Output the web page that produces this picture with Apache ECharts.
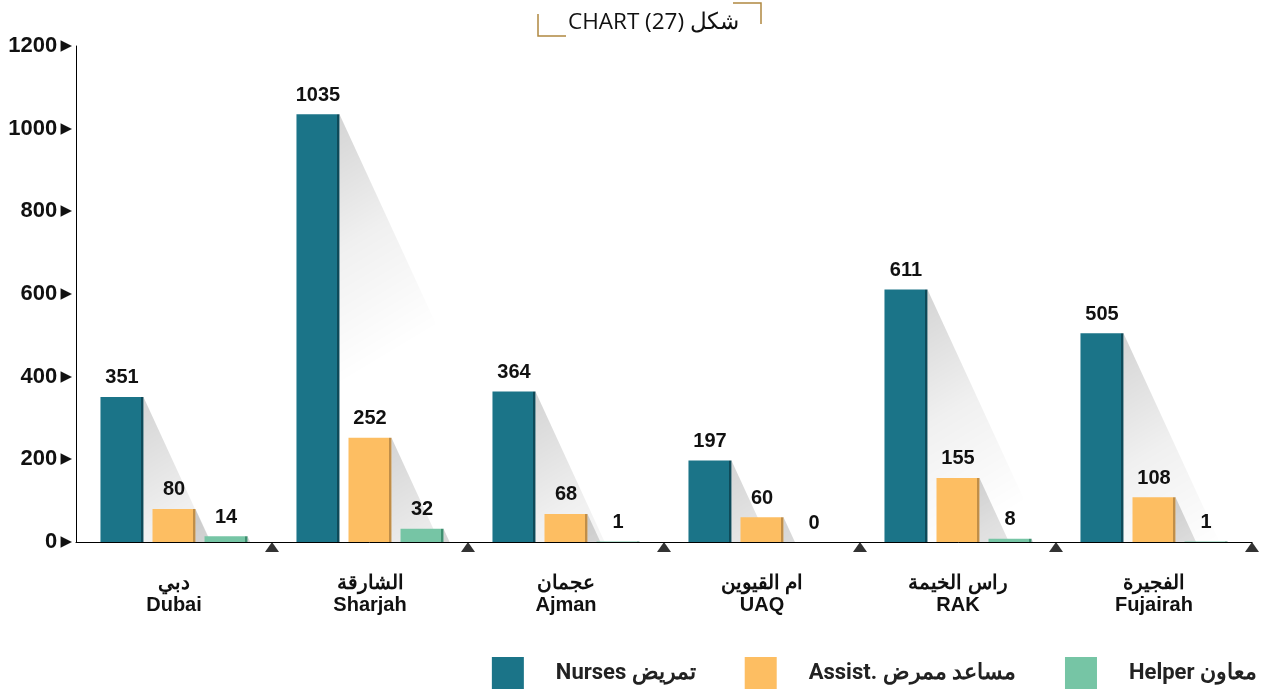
<!DOCTYPE html>
<html>
<head>
<meta charset="utf-8">
<script src="https://cdn.jsdelivr.net/npm/echarts@6/dist/echarts.min.js"></script>
<style>
  html, body { margin: 0; padding: 0; background: #fff; }
  #chart { width: 1272px; height: 693px; }
</style>
</head>
<body>
<div id="chart"></div>
<script>
// data
var regionsAr = ['دبي', 'الشارقة', 'عجمان', 'ام القيوين', 'راس الخيمة', 'الفجيرة'];
var regionsEn = ['Dubai', 'Sharjah', 'Ajman', 'UAQ', 'RAK', 'Fujairah'];
var nurses = [351, 1035, 364, 197, 611, 505];
var assist = [80, 252, 68, 60, 155, 108];
var helper = [14, 32, 1, 0, 8, 1];
var yTicks = [0, 200, 400, 600, 800, 1000, 1200];
var boundaryTicks = [1, 2, 3, 4, 5, 6];

var seriesNames = ['Nurses تمريض', 'Assist. مساعد ممرض', 'Helper معاون'];
var seriesColors = ['#1b7488', '#fdbe62', '#76c5a5'];
var edgeColors = ['#0e4a59', '#c08e48', '#3f8f70'];

var BAR_W = 43;
var BAR_GAP = 0.21;
var SHADOW_K = 0.46;

var categories = regionsAr.map(function (a, i) { return a + '\n' + regionsEn[i]; });

function barFill(i) {
  return new echarts.graphic.LinearGradient(0, 0, 1, 0, [
    { offset: 0, color: seriesColors[i] },
    { offset: 0.95, color: seriesColors[i] },
    { offset: 0.951, color: edgeColors[i] },
    { offset: 1, color: edgeColors[i] }
  ]);
}

// shadow behind each bar, placed with the same layout rule as the bars
function shadowSeries(idx, values) {
  return {
    type: 'custom',
    z: 1,
    silent: true,
    legendHoverLink: false,
    data: values.map(function (v, i) { return [i, v]; }),
    renderItem: function (params, api) {
      var top = api.coord([api.value(0), api.value(1)]);
      var base = api.coord([api.value(0), 0]);
      var h = base[1] - top[1];
      if (h < 1) return;
      var widthSum = 3 * BAR_W * (1 + BAR_GAP) - BAR_W * BAR_GAP;
      var xr = top[0] - widthSum / 2 + idx * BAR_W * (1 + BAR_GAP) + BAR_W;
      var grad = new echarts.graphic.LinearGradient(xr, top[1], xr + 120, top[1] + 200, [
        { offset: 0, color: 'rgba(0,0,0,0.17)' },
        { offset: 0.5, color: 'rgba(0,0,0,0.06)' },
        { offset: 1, color: 'rgba(0,0,0,0)' }
      ], true);
      return {
        type: 'polygon',
        shape: { points: [[xr, top[1]], [xr + SHADOW_K * h, base[1]], [xr, base[1]]] },
        style: { fill: grad }
      };
    }
  };
}

function barSeries(idx, values) {
  return {
    name: seriesNames[idx],
    type: 'bar',
    z: 2,
    barWidth: BAR_W,
    barGap: (BAR_GAP * 100) + '%',
    data: values,
    itemStyle: { color: barFill(idx) },
    label: {
      show: true,
      position: 'top',
      distance: 9,
      color: '#111',
      fontFamily: 'Liberation Sans, Arial, sans-serif',
      fontWeight: 'bold',
      fontSize: 20
    }
  };
}

var chart = echarts.init(document.getElementById('chart'));
chart.setOption({
  animation: false,
  title: {
    text: 'CHART (27) شكل',
    left: 563,
    top: 6,
    textStyle: { fontFamily: 'Open Sans, sans-serif', fontWeight: 'normal', fontSize: 22.5, color: '#111' }
  },
  graphic: [
    { type: 'polyline', shape: { points: [[538, 14], [538, 36], [566, 36]] }, style: { stroke: '#b08840', lineWidth: 1.5, fill: null } },
    { type: 'polyline', shape: { points: [[733, 3], [761, 3], [761, 24]] }, style: { stroke: '#b08840', lineWidth: 1.5, fill: null } }
  ],
  legend: {
    right: 10,
    top: 652,
    itemWidth: 32,
    itemHeight: 32,
    itemGap: 49,
    icon: 'rect',
    textStyle: {
      fontFamily: 'Roboto, sans-serif',
      fontWeight: 'bold',
      fontSize: 22,
      color: '#222',
      padding: [0, 0, 0, 27]
    },
    data: seriesNames.map(function (n, i) { return { name: n, itemStyle: { color: seriesColors[i] } }; })
  },
  grid: { left: 76, right: 20, top: 46, bottom: 151, containLabel: false },
  xAxis: [{
    type: 'category',
    data: categories,
    axisLine: { lineStyle: { color: '#000', width: 1 } },
    axisTick: { show: false },
    axisLabel: {
      margin: 30,
      color: '#111',
      fontFamily: 'Liberation Sans, Arial, sans-serif',
      fontWeight: 'bold',
      fontSize: 20,
      lineHeight: 22
    }
  }, {
    type: 'value',
    min: 0,
    max: 6,
    show: false
  }],
  yAxis: {
    type: 'value',
    min: 0,
    max: yTicks[yTicks.length - 1],
    interval: 200,
    splitLine: { show: false },
    axisTick: { show: false },
    axisLine: { show: true, lineStyle: { color: '#000', width: 1 } },
    axisLabel: {
      margin: 4,
      formatter: function (v) { return '{v|' + v + '} {t|▶}'; },
      rich: {
        v: { color: '#111', fontFamily: 'Liberation Sans, Arial, sans-serif', fontWeight: 'bold', fontSize: 22 },
        t: { color: '#111', fontFamily: 'DejaVu Sans', fontSize: 15 }
      }
    }
  },
  series: [
    shadowSeries(0, nurses),
    shadowSeries(1, assist),
    shadowSeries(2, helper),
    barSeries(0, nurses),
    barSeries(1, assist),
    barSeries(2, helper),
    {
      type: 'scatter',
      xAxisIndex: 1,
      z: 5,
      silent: true,
      symbol: 'triangle',
      symbolSize: [14, 10],
      symbolOffset: [0, 5],
      itemStyle: { color: '#000' },
      clip: false,
      data: boundaryTicks.map(function (b) { return [b, 0]; })
    }
  ]
});
</script>
</body>
</html>
